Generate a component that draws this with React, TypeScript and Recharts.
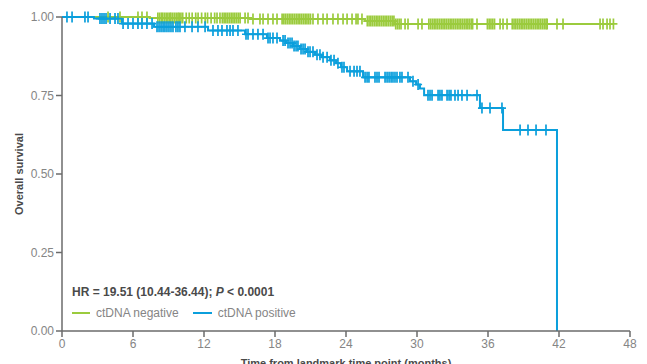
import React from 'react';
import { ComposedChart, Line, Scatter, XAxis, YAxis } from 'recharts';

const xTicks = [0, 6, 12, 18, 24, 30, 36, 42, 48];
const yTicks = [0, 0.25, 0.5, 0.75, 1];

const seriesNames = ['ctDNA negative', 'ctDNA positive'];
const hrLabel = 'HR = 19.51 (10.44-36.44); ';
const pLabel = ' < 0.0001';
const xTitle = 'Time from landmark time point (months)';
const yTitle = 'Overall survival';

// ctDNA negative (green)
const greenStepTimes = [0, 7.4, 15.9, 25.6, 28.1, 46.6];
const greenStepSurv = [1.0, 0.997, 0.994, 0.987, 0.978, 0.978];
const greenCensorTimes = [
  3.89, 4.9, 6.42, 6.76, 7.18,
  8.1, 8.25, 8.4, 8.5, 8.65, 8.8, 8.95, 9.1, 9.2, 9.35, 9.5, 9.65, 9.8, 9.9, 10.05, 10.2,
  10.5, 10.75, 11.0, 11.3, 11.5, 11.8, 12.1, 12.3, 12.6, 12.9, 13.1, 13.35,
  13.55, 13.7, 13.85, 14.0, 14.15, 14.3, 14.45, 14.6, 14.75, 14.9, 15.05,
  15.47, 15.72, 16.14, 16.73, 16.99, 17.41, 17.83, 18.17,
  18.6, 18.75, 18.9, 19.05, 19.2, 19.35, 19.5, 19.65, 19.8, 19.95, 20.1, 20.25, 20.4, 20.55, 20.7, 20.85, 21.0,
  21.21, 21.63, 22.06, 22.4, 22.9, 23.32, 23.75, 24.09, 24.51, 24.85, 25.01, 25.35,
  25.8, 25.95, 26.1, 26.25, 26.4, 26.55, 26.7, 26.85, 27.0, 27.15, 27.3, 27.45, 27.6, 27.75, 27.9, 28.05, 28.2, 28.35, 28.5, 28.65,
  28.99, 29.24, 30.09, 30.42,
  31.0, 31.15, 31.3, 31.45, 31.6, 31.75, 31.9, 32.05, 32.2, 32.35, 32.5, 32.65, 32.8, 32.95, 33.1, 33.25, 33.4, 33.55, 33.7, 33.85, 34.0, 34.15, 34.3, 34.45, 34.6, 34.7,
  35.07, 35.95, 36.1, 36.25, 36.4, 36.55, 37.02, 37.27, 37.61,
  38.05, 38.2, 38.35, 38.5, 38.65, 38.8, 38.95, 39.1, 39.25, 39.4, 39.55, 39.7, 39.85, 40.0, 40.15, 40.3, 40.45, 40.6, 40.75, 40.9, 41.0,
  41.83, 42.34, 45.47, 45.72, 46.06, 46.31, 46.6,
];

// ctDNA positive (blue)
const blueStepTimes = [0, 2.7, 5.07, 7.78, 12.34, 15.47, 17.32, 18.42, 18.93, 19.52, 20.11, 20.7, 21.38, 21.97, 22.65, 23.16, 23.58, 24.09, 25.44, 29.41, 29.92, 30.25, 30.6, 35.32, 37.27, 41.83];
const blueStepSurv = [1.0, 0.995, 0.979, 0.969, 0.957, 0.945, 0.933, 0.925, 0.917, 0.908, 0.898, 0.889, 0.88, 0.872, 0.862, 0.853, 0.84, 0.827, 0.808, 0.795, 0.785, 0.772, 0.751, 0.71, 0.64, 0];
const blueCensorTimes = [
  0.42, 0.85, 1.94, 2.2, 3.21, 3.38, 3.55, 3.72, 4.06, 4.48, 4.73,
  5.16, 5.58, 6.0, 6.42, 6.76, 7.18, 7.61,
  8.03, 8.2, 8.37, 8.54, 8.7, 8.87, 9.04, 9.21, 9.38, 9.63, 9.8, 9.97, 10.39, 10.99, 11.49, 12.09,
  12.76, 13.18, 13.52, 13.94, 14.2, 14.45, 14.87,
  15.55, 15.72, 16.14, 16.56, 16.99,
  17.41, 17.58, 17.83, 18.17,
  18.68, 18.85, 19.1, 19.27, 19.44, 19.61, 19.78, 19.94, 20.2, 20.37, 20.54, 20.79, 20.96, 21.21, 21.55, 21.8, 22.06, 22.4, 22.73, 22.99, 23.32, 23.66, 23.83,
  24.34, 24.68, 24.93, 25.18,
  25.61, 25.78, 25.94, 26.45, 26.62, 26.79, 27.3, 27.47, 27.64, 27.81, 27.97, 28.14, 28.31, 28.56, 28.73, 29.24,
  29.66, 30.09,
  30.93, 31.1, 31.27, 31.78, 31.94, 32.11, 32.54, 32.71, 32.87, 33.21, 33.47, 33.8, 34.23, 35.07,
  35.49, 36.17, 37.18,
  38.71, 39.38, 40.06, 40.9,
];

const GREEN = '#9BCB3D';
const BLUE = '#0B9FDC';
const AXIS = '#6b6b6b';
const TICK_TEXT = '#858585';
const TITLE_TEXT = '#4a4a4a';
const FONT = '"Liberation Sans", Arial, Helvetica, sans-serif';

function levelAt(times: number[], surv: number[], t: number) {
  let s = surv[0];
  for (let i = 0; i < times.length; i++) {
    if (times[i] <= t) s = surv[i];
  }
  return s;
}

const greenLine = greenStepTimes.map((t, i) => ({ t, s: greenStepSurv[i] }));
const blueLine = blueStepTimes.map((t, i) => ({ t, s: blueStepSurv[i] }));
const greenCensor = greenCensorTimes.map((t) => ({ t, s: levelAt(greenStepTimes, greenStepSurv, t) }));
const blueCensor = blueCensorTimes.map((t) => ({ t, s: levelAt(blueStepTimes, blueStepSurv, t) }));

const makeMark = (color: string) => (props: any) => {
  const { cx, cy } = props;
  if (cx == null || cy == null) return <g />;
  return (
    <path
      d={`M${cx - 4},${cy} h8 M${cx},${cy - 5.5} v11`}
      stroke={color}
      strokeWidth={1.7}
      fill="none"
    />
  );
};

export default function App() {
  return (
    <div style={{ position: 'absolute', left: 0, top: 0, width: 647, height: 364, background: '#fff', overflow: 'hidden' }}>
      <ComposedChart
        width={647}
        height={364}
        margin={{ top: 17, right: 17, left: 0, bottom: 0 }}
      >
        <XAxis
          dataKey="t"
          type="number"
          domain={[0, 48]}
          ticks={xTicks}
          allowDataOverflow
          height={33}
          stroke={AXIS}
          strokeWidth={1.5}
          tickSize={6}
          tickLine={{ stroke: AXIS, strokeWidth: 1.5 }}
          tick={{ fill: TICK_TEXT, fontSize: 12, fontFamily: FONT }}
        />
        <YAxis
          dataKey="s"
          type="number"
          domain={[0, 1]}
          ticks={yTicks}
          width={62}
          stroke={AXIS}
          strokeWidth={1.5}
          tickSize={6}
          tickLine={{ stroke: AXIS, strokeWidth: 1.5 }}
          tickFormatter={(v: number) => v.toFixed(2)}
          tick={{ fill: TICK_TEXT, fontSize: 12, fontFamily: FONT }}
        />
        <Line
          data={greenLine}
          dataKey="s"
          type="stepAfter"
          stroke={GREEN}
          strokeWidth={2}
          dot={false}
          activeDot={false}
          isAnimationActive={false}
          legendType="none"
        />
        <Scatter
          data={greenCensor}
          dataKey="s"
          shape={makeMark(GREEN)}
          isAnimationActive={false}
          legendType="none"
        />
        <Line
          data={blueLine}
          dataKey="s"
          type="stepAfter"
          stroke={BLUE}
          strokeWidth={2}
          dot={false}
          activeDot={false}
          isAnimationActive={false}
          legendType="none"
        />
        <Scatter
          data={blueCensor}
          dataKey="s"
          shape={makeMark(BLUE)}
          isAnimationActive={false}
          legendType="none"
        />
      </ComposedChart>
      <div style={{ position: 'absolute', left: 72, top: 285, fontFamily: FONT, pointerEvents: 'none' }}>
        <div style={{ fontSize: 12, fontWeight: 'bold', color: TITLE_TEXT, lineHeight: '14px', whiteSpace: 'nowrap' }}>
          {hrLabel}
          <i>P</i>
          {pLabel}
        </div>
        <div style={{ display: 'flex', alignItems: 'center', fontSize: 12, color: TICK_TEXT, marginTop: 7, lineHeight: '14px', whiteSpace: 'nowrap' }}>
          <span style={{ display: 'inline-block', width: 18, height: 2, background: GREEN, marginRight: 6 }} />
          <span style={{ marginRight: 14 }}>{seriesNames[0]}</span>
          <span style={{ display: 'inline-block', width: 19, height: 2, background: BLUE, marginRight: 6 }} />
          <span>{seriesNames[1]}</span>
        </div>
      </div>
      <svg
        width={647}
        height={364}
        style={{ position: 'absolute', left: 0, top: 0, pointerEvents: 'none' }}
      >
        <text
          x={346}
          y={367}
          textAnchor="middle"
          fontFamily={FONT}
          fontSize={11}
          fontWeight="bold"
          fill={TITLE_TEXT}
        >
          {xTitle}
        </text>
        <text
          x={23}
          y={174}
          textAnchor="middle"
          transform="rotate(-90 23 174)"
          fontFamily={FONT}
          fontSize={11}
          fontWeight="bold"
          fill={TITLE_TEXT}
        >
          {yTitle}
        </text>
      </svg>
    </div>
  );
}
